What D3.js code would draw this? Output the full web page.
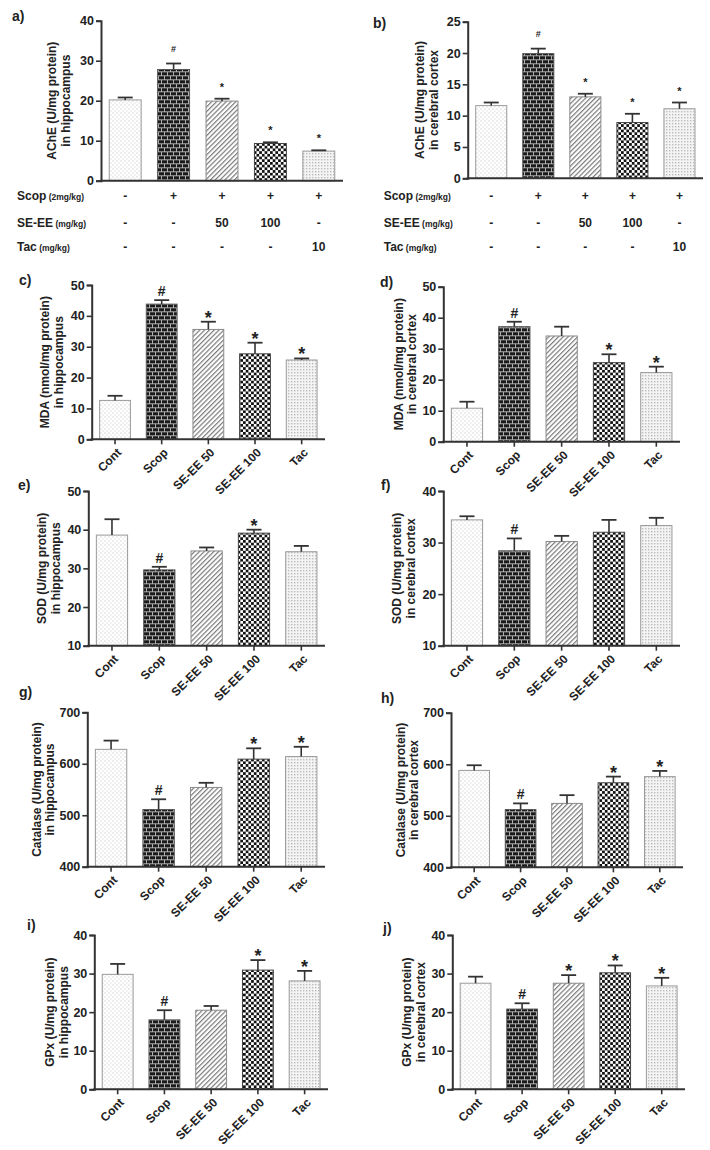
<!DOCTYPE html>
<html>
<head>
<meta charset="utf-8">
<script src="https://cdn.jsdelivr.net/npm/d3@7"></script>
<style>
  html, body { margin: 0; padding: 0; background: #fff; }
  svg text { font-family: Arial, "Liberation Sans", "DejaVu Sans", sans-serif; font-weight: bold; fill: #222; }
</style>
</head>
<body>
<svg id="chart" width="710" height="1150" font-family="Arial, 'Liberation Sans', sans-serif"></svg>
<script>
// ---------- data ----------
const categories = ["Cont", "Scop", "SE-EE 50", "SE-EE 100", "Tac"];

const rowScop = ["-", "+", "+", "+", "+"];
const rowSEEE = ["-", "-", "50", "100", "-"];
const rowTac  = ["-", "-", "-", "-", "10"];

const aMean = [20.2, 27.8, 19.9, 9.3, 7.4];
const aSem  = [0.6, 1.5, 0.6, 0.3, 0.2];
const aSig  = ["", "#", "*", "*", "*"];

const bMean = [11.6, 19.9, 13.0, 8.9, 11.1];
const bSem  = [0.5, 0.8, 0.5, 1.4, 1.0];
const bSig  = ["", "#", "*", "*", "*"];

const cMean = [12.6, 43.8, 35.6, 27.7, 25.7];
const cSem  = [1.5, 1.3, 2.5, 3.6, 0.5];
const cSig  = ["", "#", "*", "*", "*"];

const dMean = [10.8, 37.1, 34.1, 25.5, 22.3];
const dSem  = [2.1, 1.6, 3.0, 2.7, 1.9];
const dSig  = ["", "#", "", "*", "*"];

const eMean = [38.6, 29.6, 34.5, 39.1, 34.3];
const eSem  = [4.1, 0.8, 0.9, 0.9, 1.5];
const eSig  = ["", "#", "", "*", ""];

const fMean = [34.4, 28.4, 30.2, 32.0, 33.3];
const fSem  = [0.7, 2.4, 1.1, 2.4, 1.5];
const fSig  = ["", "#", "", "", ""];

const gMean = [628, 511, 554, 609, 614];
const gSem  = [17, 20, 9, 21, 19];
const gSig  = ["", "#", "", "*", "*"];

const hMean = [588, 512, 524, 564, 576];
const hSem  = [10, 12, 16, 12, 11];
const hSig  = ["", "#", "", "*", "*"];

const iMean = [29.8, 18.0, 20.5, 30.9, 28.1];
const iSem  = [2.7, 2.5, 1.1, 2.6, 2.6];
const iSig  = ["", "#", "", "*", "*"];

const jMean = [27.5, 20.8, 27.5, 30.2, 26.8];
const jSem  = [1.7, 1.5, 2.1, 1.9, 2.1];
const jSig  = ["", "#", "*", "*", "*"];

const titleHip = "in hippocampus";
const titleCtx = "in cerebral cortex";

// ---------- layout ----------
const panels = [
  {lab:"a)", mean:aMean, sem:aSem, sig:aSig, dom:[0,40], step:10, t1:"AChE (U/mg protein)", t2:titleHip,
   x0:101, x1:343, yT:20.7, yB:180.7, tx:52, lx:12, ly:21, table:true, small:true},
  {lab:"b)", mean:bMean, sem:bSem, sig:bSig, dom:[0,25], step:5, t1:"AChE (U/mg protein)", t2:titleCtx,
   x0:467.7, x1:703, yT:21.7, yB:178.3, tx:420, lx:373, ly:28, table:true, small:true},
  {lab:"c)", mean:cMean, sem:cSem, sig:cSig, dom:[0,50], step:10, t1:"MDA (nmol/mg protein)", t2:titleHip,
   x0:91.7, x1:325, yT:285, yB:439.3, tx:45, lx:19, ly:285},
  {lab:"d)", mean:dMean, sem:dSem, sig:dSig, dom:[0,50], step:10, t1:"MDA (nmol/mg protein)", t2:titleCtx,
   x0:443.3, x1:680, yT:286.7, yB:441.7, tx:398.5, lx:380, ly:287},
  {lab:"e)", mean:eMean, sem:eSem, sig:eSig, dom:[10,50], step:10, t1:"SOD (U/mg protein)", t2:titleHip,
   x0:88.3, x1:325, yT:491, yB:645.7, tx:42, lx:18, ly:490},
  {lab:"f)", mean:fMean, sem:fSem, sig:fSig, dom:[10,40], step:10, t1:"SOD (U/mg protein)", t2:titleCtx,
   x0:443.3, x1:680, yT:491, yB:645.7, tx:397, lx:381, ly:490},
  {lab:"g)", mean:gMean, sem:gSem, sig:gSig, dom:[400,700], step:100, t1:"Catalase (U/mg protein)", t2:titleHip,
   x0:87.3, x1:325, yT:712.3, yB:866.7, tx:36.5, lx:19, ly:697},
  {lab:"h)", mean:hMean, sem:hSem, sig:hSig, dom:[400,700], step:100, t1:"Catalase (U/mg protein)", t2:titleCtx,
   x0:451, x1:683, yT:712.7, yB:867.3, tx:400.5, lx:381, ly:703},
  {lab:"i)", mean:iMean, sem:iSem, sig:iSig, dom:[0,40], step:10, t1:"GPx (U/mg protein)", t2:titleHip,
   x0:94.3, x1:328, yT:935, yB:1089.3, tx:50, lx:27, ly:930},
  {lab:"j)", mean:jMean, sem:jSem, sig:jSig, dom:[0,40], step:10, t1:"GPx (U/mg protein)", t2:titleCtx,
   x0:452.3, x1:685, yT:935, yB:1089.3, tx:407, lx:383, ly:933}
];

const svg = d3.select("#chart");
const defs = svg.append("defs");

// patterns
function pat(id, w, h, build, transform) {
  const p = defs.append("pattern").attr("id", id).attr("patternUnits", "userSpaceOnUse")
    .attr("width", w).attr("height", h);
  if (transform) p.attr("patternTransform", transform);
  build(p);
}
pat("pCont", 4, 4, p => {
  p.append("rect").attr("width", 4).attr("height", 4).attr("fill", "#fff");
  p.append("rect").attr("x", 0.5).attr("y", 0.5).attr("width", 1).attr("height", 1).attr("fill", "#b8b8b8");
  p.append("rect").attr("x", 2.5).attr("y", 2.5).attr("width", 1).attr("height", 1).attr("fill", "#c8c8c8");
});
pat("pScop", 6, 8, p => {
  p.append("rect").attr("width", 6).attr("height", 8).attr("fill", "#b0b0b0");
  p.append("rect").attr("x", 0).attr("y", 0.3).attr("width", 5).attr("height", 3).attr("fill", "#1a1a1a");
  p.append("rect").attr("x", -3).attr("y", 4.3).attr("width", 5).attr("height", 3).attr("fill", "#1a1a1a");
  p.append("rect").attr("x", 3).attr("y", 4.3).attr("width", 5).attr("height", 3).attr("fill", "#1a1a1a");
});
pat("pSE50", 3.4, 3.4, p => {
  p.append("rect").attr("width", 3.4).attr("height", 3.4).attr("fill", "#fff");
  p.append("line").attr("x1", 0.6).attr("y1", 0).attr("x2", 0.6).attr("y2", 3.4)
    .attr("stroke", "#7a7a7a").attr("stroke-width", 1.2);
}, "rotate(45)");
pat("pSE100", 5.4, 5.4, p => {
  p.append("rect").attr("width", 5.4).attr("height", 5.4).attr("fill", "#fff");
  p.append("rect").attr("x", 0).attr("y", 0).attr("width", 2.7).attr("height", 2.7).attr("fill", "#111");
  p.append("rect").attr("x", 2.7).attr("y", 2.7).attr("width", 2.7).attr("height", 2.7).attr("fill", "#111");
});
pat("pTac", 3, 3, p => {
  p.append("rect").attr("width", 3).attr("height", 3).attr("fill", "#f4f4f4");
  p.append("rect").attr("x", 0).attr("y", 0).attr("width", 1.4).attr("height", 1.4).attr("fill", "#bdbdbd");
});
const fills = ["url(#pCont)", "url(#pScop)", "url(#pSE50)", "url(#pSE100)", "url(#pTac)"];
const strokes = ["#9a9a9a", "#555", "#8a8a8a", "#444", "#9a9a9a"];

panels.forEach(P => {
  const g = svg.append("g");
  const x = d3.scaleBand().domain(categories).range([P.x0, P.x1]).paddingInner(0.34).paddingOuter(0.17);
  const y = d3.scaleLinear().domain(P.dom).range([P.yB, P.yT]);
  const rows = categories.map((c, k) => ({c, m: P.mean[k], s: P.sem[k], sig: P.sig[k], k}));

  // bars
  g.selectAll("rect.bar").data(rows).enter().append("rect")
    .attr("x", d => x(d.c)).attr("width", x.bandwidth())
    .attr("y", d => y(d.m)).attr("height", d => y(P.dom[0]) - y(d.m))
    .attr("fill", d => fills[d.k]).attr("stroke", d => strokes[d.k]).attr("stroke-width", 1);

  // error bars (upper)
  const cap = 7.5;
  g.selectAll("line.ev").data(rows).enter().append("line")
    .attr("x1", d => x(d.c) + x.bandwidth() / 2).attr("x2", d => x(d.c) + x.bandwidth() / 2)
    .attr("y1", d => y(d.m)).attr("y2", d => y(d.m + d.s))
    .attr("stroke", "#333").attr("stroke-width", 1.6);
  g.selectAll("line.ec").data(rows).enter().append("line")
    .attr("x1", d => x(d.c) + x.bandwidth() / 2 - cap).attr("x2", d => x(d.c) + x.bandwidth() / 2 + cap)
    .attr("y1", d => y(d.m + d.s)).attr("y2", d => y(d.m + d.s))
    .attr("stroke", "#333").attr("stroke-width", 1.8);

  // significance markers
  g.selectAll("text.sig").data(rows.filter(d => d.sig)).enter().append("text")
    .attr("x", d => x(d.c) + x.bandwidth() / 2)
    .attr("y", d => {
      const t = y(d.m + d.s);
      if (P.small) return d.sig === "#" ? t - 12 : t - 8;
      return d.sig === "#" ? t - 4 : t + 2;
    })
    .attr("text-anchor", "middle")
    .style("font-size", d => P.small ? (d.sig === "#" ? "9px" : "11px") : (d.sig === "#" ? "14px" : "18px"))
    .text(d => d.sig);

  // y axis
  const ticks = d3.range(P.dom[0], P.dom[1] + 0.001, P.step);
  const ya = g.append("g").attr("transform", `translate(${P.x0},0)`)
    .call(d3.axisLeft(y).tickValues(ticks).tickSize(5).tickPadding(2).tickFormat(d3.format("d")));
  ya.attr("font-family", null);
  ya.select(".domain").attr("stroke", "#333").attr("stroke-width", 2);
  ya.selectAll(".tick line").attr("stroke", "#333").attr("stroke-width", 1.6);
  ya.selectAll(".tick text").style("font-size", "12.5px").attr("fill", "#222");

  // x axis line
  g.append("line").attr("x1", P.x0 - 1).attr("x2", P.x1).attr("y1", P.yB).attr("y2", P.yB)
    .attr("stroke", "#333").attr("stroke-width", 2);

  if (!P.table) {
    g.selectAll("line.xt").data(categories).enter().append("line")
      .attr("x1", d => x(d) + x.bandwidth() / 2).attr("x2", d => x(d) + x.bandwidth() / 2)
      .attr("y1", P.yB).attr("y2", P.yB + 5).attr("stroke", "#333").attr("stroke-width", 1.6);
    g.selectAll("text.xl").data(categories).enter().append("text")
      .attr("transform", d => `translate(${x(d) + x.bandwidth() / 2 + 4},${P.yB + 11}) rotate(-45)`)
      .attr("text-anchor", "end").attr("dy", "0.35em")
      .style("font-size", "12px").text(d => d);
  } else {
    const rowDefs = [
      {main: "Scop", sub: " (2mg/kg)", vals: rowScop, yy: 196},
      {main: "SE-EE", sub: " (mg/kg)", vals: rowSEEE, yy: 223},
      {main: "Tac", sub: " (mg/kg)", vals: rowTac, yy: 247}
    ];
    const lx = P.x0 - 84;
    rowDefs.forEach(r => {
      const t = g.append("text").attr("x", lx).attr("y", r.yy).attr("dy", "0.35em").style("font-size", "12px");
      t.append("tspan").text(r.main);
      t.append("tspan").style("font-size", "8.5px").text(r.sub);
      g.selectAll(null).data(r.vals).enter().append("text")
        .attr("x", (d, k) => x(categories[k]) + x.bandwidth() / 2)
        .attr("y", r.yy).attr("dy", "0.35em").attr("text-anchor", "middle")
        .style("font-size", "12px").text(d => d);
    });
  }

  // y title
  const cy = (P.yT + P.yB) / 2;
  [P.t1, P.t2].forEach((t, k) => {
    g.append("text").attr("transform", `translate(${P.tx + k * 13.5},${cy}) rotate(-90)`)
      .attr("text-anchor", "middle").attr("dy", "0.35em").style("font-size", "12px").text(t);
  });

  // panel label
  g.append("text").attr("x", P.lx).attr("y", P.ly).style("font-size", "14px").text(P.lab);
});
</script>
</body>
</html>
